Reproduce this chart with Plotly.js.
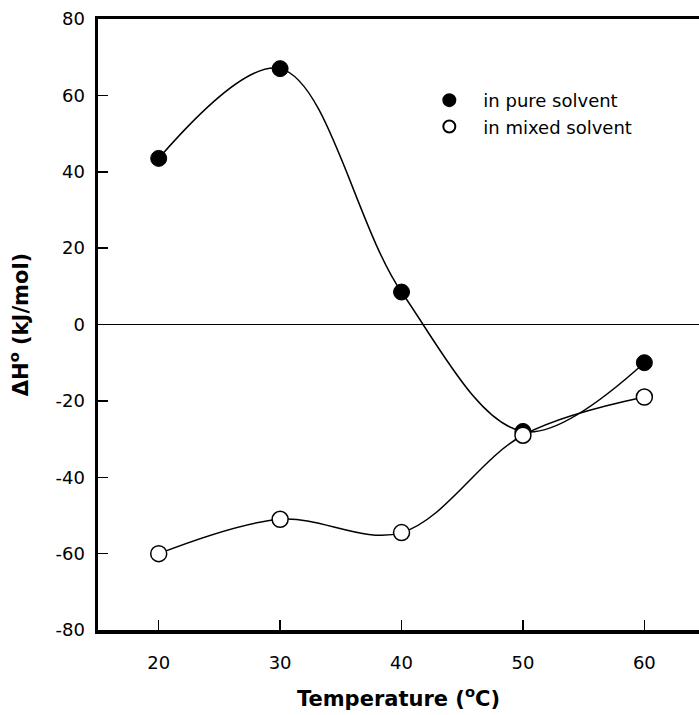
<!DOCTYPE html>
<html>
<head>
<meta charset="utf-8">
<script src="https://cdn.plot.ly/plotly-3.0.1.min.js"></script>
<style>html,body{margin:0;padding:0;background:#fff;}#chart{width:699px;height:715px;}</style>
</head>
<body>
<div id="chart"></div>
<script>
var temperature = [20, 30, 40, 50, 60];
var pureSolvent = [43.5, 67, 8.5, -28, -10];
var mixedSolvent = [-60, -51, -54.5, -29, -19];
var seriesNames = ["in pure solvent", "in mixed solvent"];
var xTicks = [20, 30, 40, 50, 60];
var yTicks = [-80, -60, -40, -20, 0, 20, 40, 60, 80];
var yTickText = ["-80", "-60", "-40", "-20", "0", "20", "40", "60", "80"];

var FONT = "DejaVu Sans, Liberation Sans, Arial, sans-serif";

var traces = [
  {x: temperature, y: pureSolvent, mode: "lines", line: {shape: "spline", smoothing: 1, color: "#000", width: 1.5}, showlegend: false, hoverinfo: "skip"},
  {x: temperature, y: mixedSolvent, mode: "lines", line: {shape: "spline", smoothing: 1, color: "#000", width: 1.5}, showlegend: false, hoverinfo: "skip"},
  {x: temperature, y: pureSolvent, mode: "markers", name: seriesNames[0], marker: {symbol: "circle", size: 16, color: "#000", line: {color: "#000", width: 1}}},
  {x: temperature, y: mixedSolvent, mode: "markers", name: seriesNames[1], marker: {symbol: "circle", size: 16, color: "#fff", line: {color: "#000", width: 1.5}}}
];

var layout = {
  width: 699, height: 715,
  margin: {l: 98, r: 0, t: 19, b: 85},
  paper_bgcolor: "#fff", plot_bgcolor: "#fff",
  font: {family: FONT, size: 18, color: "#000"},
  showlegend: true,
  legend: {x: 0.528, y: 0.897, xanchor: "left", yanchor: "top", bgcolor: "rgba(0,0,0,0)", font: {size: 18}, itemsizing: "constant", itemwidth: 58, tracegroupgap: 0},
  xaxis: {
    range: [15, 64.5], tickvals: xTicks, ticks: "inside", ticklen: 10, tickwidth: 1.5, tickcolor: "#000",
    showline: true, linewidth: 3.5, linecolor: "#000", mirror: true, showgrid: false, zeroline: false,
    ticklabelstandoff: 14,
    title: {text: "<b>Temperature (<sup>o</sup>C)</b>", font: {size: 21}, standoff: 20}
  },
  yaxis: {
    range: [-80, 80], tickvals: yTicks, ticktext: yTickText, ticks: "inside", ticklen: 10, tickwidth: 1.5, tickcolor: "#000",
    showline: true, linewidth: 3.5, linecolor: "#000", mirror: false, showgrid: false,
    zeroline: true, zerolinecolor: "#000", zerolinewidth: 1,
    ticklabelstandoff: 6,
    title: {text: "<b>ΔH<sup>o</sup> (kJ/mol)</b>", font: {size: 21}, standoff: 22}
  }
};

Plotly.newPlot("chart", traces, layout, {displayModeBar: false, staticPlot: true});
</script>
</body>
</html>
